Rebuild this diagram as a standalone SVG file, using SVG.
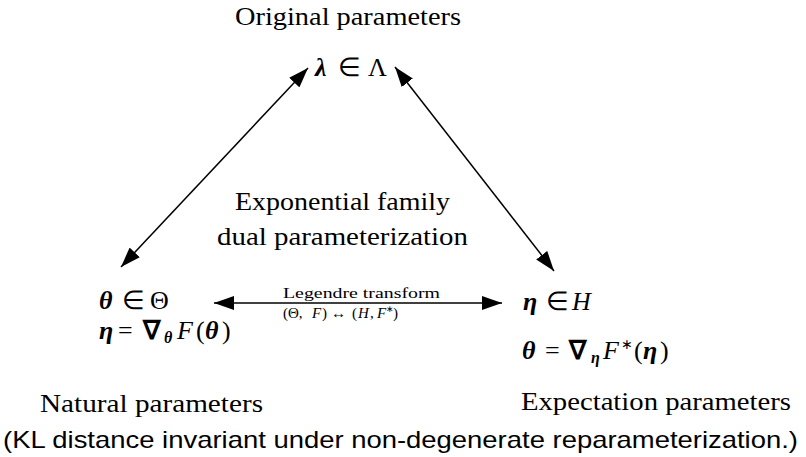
<svg xmlns="http://www.w3.org/2000/svg" width="806" height="457" viewBox="0 0 806 457">
<style>
.t{font-family:"Liberation Serif","Times New Roman",serif;font-size:25px;fill:#000}
.m{font-family:"Liberation Serif","Times New Roman",serif;font-size:26px;fill:#000}
.s{font-family:"Liberation Serif","Times New Roman",serif;font-size:15px;fill:#000}
.b{font-weight:bold;font-style:italic}
.i{font-style:italic}
.f{font-family:"Liberation Sans",Arial,sans-serif;font-size:24px;fill:#000}
.ln{stroke:#000;stroke-width:1.5;fill:none}
</style>
<defs>
<marker id="ah" viewBox="0 0 20 14" refX="20" refY="7" markerWidth="20" markerHeight="14" markerUnits="userSpaceOnUse" orient="auto-start-reverse">
<path d="M0,0 L20,7 L0,14 Z" fill="#000"/>
</marker>
</defs>
<g id="original">
<text class="t" x="235" y="25" textLength="226" lengthAdjust="spacingAndGlyphs">Original parameters</text>
<text class="m" y="76"><tspan class="b" x="315">λ</tspan><tspan x="338">∈</tspan><tspan x="368">Λ</tspan></text>
</g>
<g id="center">
<text class="t" x="235" y="210" textLength="215" lengthAdjust="spacingAndGlyphs">Exponential family</text>
<text class="t" x="217" y="245" textLength="251" lengthAdjust="spacingAndGlyphs">dual parameterization</text>
</g>
<g id="natural">
<text class="m" y="309"><tspan class="b" x="99">θ</tspan><tspan x="122">∈</tspan><tspan x="150">Θ</tspan></text>
<text class="m" y="339"><tspan class="b" x="99">η</tspan><tspan x="118">=</tspan><tspan font-weight="bold" x="143">∇</tspan><tspan class="b" font-size="16" x="164" dy="4">θ</tspan><tspan class="i" x="177" dy="-4">F</tspan><tspan x="196">(</tspan><tspan class="b" x="205">θ</tspan><tspan x="222">)</tspan></text>
<text class="t" x="40" y="412" textLength="223" lengthAdjust="spacingAndGlyphs">Natural parameters</text>
</g>
<g id="expectation">
<text class="m" y="310"><tspan class="b" x="523">η</tspan><tspan x="546">∈</tspan><tspan class="i" x="572">H</tspan></text>
<text class="m" y="359"><tspan class="b" x="522">θ</tspan><tspan x="545">=</tspan><tspan font-weight="bold" x="569">∇</tspan><tspan class="b" font-size="16" x="591" dy="4">η</tspan><tspan class="i" x="603" dy="-4">F</tspan><tspan font-size="14" x="621" dy="-10">∗</tspan><tspan x="634" dy="10">(</tspan><tspan class="b" x="643">η</tspan><tspan x="660">)</tspan></text>
<text class="t" x="521" y="410" textLength="270" lengthAdjust="spacingAndGlyphs">Expectation parameters</text>
</g>
<g id="connectors">
<line class="ln" x1="308" y1="68" x2="121" y2="267" marker-start="url(#ah)" marker-end="url(#ah)"/>
<line class="ln" x1="395" y1="67" x2="554" y2="271" marker-start="url(#ah)" marker-end="url(#ah)"/>
<line class="ln" x1="214" y1="303" x2="502" y2="303" marker-start="url(#ah)" marker-end="url(#ah)"/>
<text class="s" x="283" y="298" textLength="157" lengthAdjust="spacingAndGlyphs">Legendre transform</text>
<text class="s" y="318"><tspan x="283">(Θ,</tspan><tspan class="i" x="312">F</tspan><tspan x="322">)</tspan><tspan x="331">↔</tspan><tspan x="352">(</tspan><tspan class="i" x="358">H</tspan><tspan x="370">,</tspan><tspan class="i" x="377">F</tspan><tspan font-size="9" x="386" dy="-6">∗</tspan><tspan x="393" dy="6">)</tspan></text>
</g>
<text class="f" x="3" y="448" textLength="795" lengthAdjust="spacingAndGlyphs">(KL distance invariant under non-degenerate reparameterization.)</text>
</svg>
